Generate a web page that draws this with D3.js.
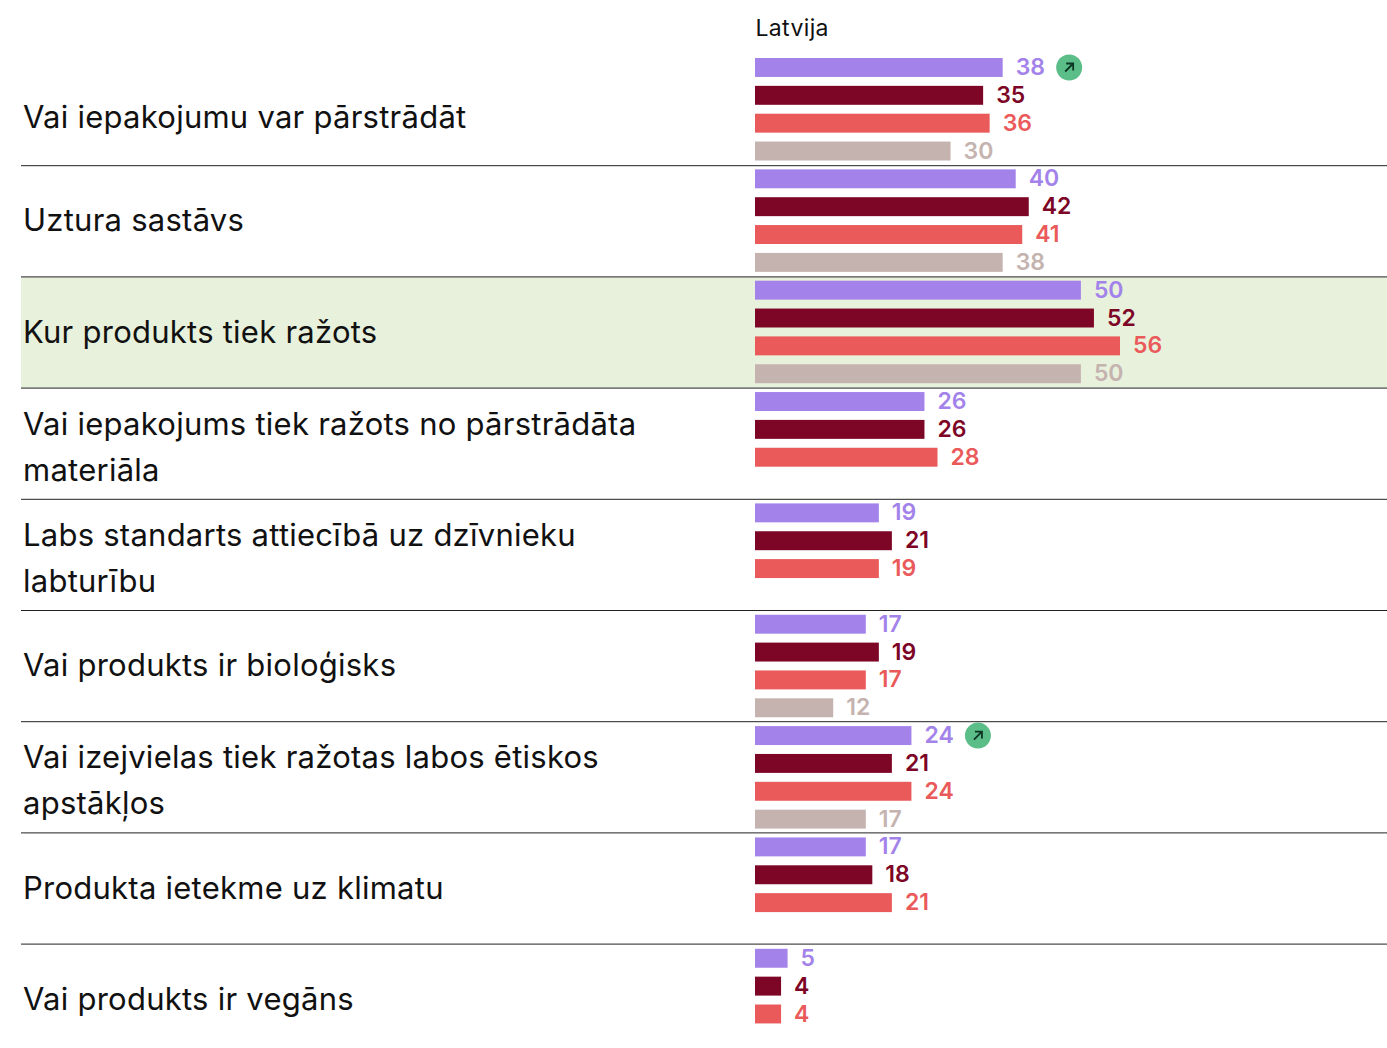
<!DOCTYPE html>
<html><head><meta charset="utf-8">
<script src="https://cdn.jsdelivr.net/npm/d3@7/dist/d3.min.js"></script>
<style>html,body{margin:0;padding:0;background:#fff}svg{display:block}text{font-family:Inter,sans-serif}</style>
</head><body><svg id="c" width="1387" height="1048"></svg>
<script>
const categories=[["Vai iepakojumu var pārstrādāt"],["Uztura sastāvs"],["Kur produkts tiek ražots"],["Vai iepakojums tiek ražots no pārstrādāta","materiāla"],["Labs standarts attiecībā uz dzīvnieku","labturību"],["Vai produkts ir bioloģisks"],["Vai izejvielas tiek ražotas labos ētiskos","apstākļos"],["Produkta ietekme uz klimatu"],["Vai produkts ir vegāns"]];
const seriesA=[38,40,50,26,19,17,24,17,5];
const seriesB=[35,42,52,26,21,19,21,18,4];
const seriesC=[36,41,56,28,19,17,24,21,4];
const seriesD=[30,38,50,null,null,12,17,null,null];
const seriesColors=["#a383ea","#7d0526","#ea5a5a","#c4b3af"];
const trendRows=[0,6];
const highlightRow=2;
const header="Latvija";
const svg=d3.select("#c");
const rowH=111.2,top0=54.5;
const y=d3.scaleBand().domain(d3.range(categories.length)).range([top0,top0+rowH*categories.length]);
const x=d3.scaleLinear().domain([0,56]).range([755,1120]);
const inner=d3.scaleBand().domain(d3.range(4)).range([3.5,106]).paddingInner(0.32).paddingOuter(0);
svg.append("rect").attr("x",21).attr("y",y(highlightRow)).attr("width",1366).attr("height",rowH).attr("fill","#e8f1dc");
svg.append("text").attr("x",755.5).attr("y",36).attr("font-size",23).attr("letter-spacing",.35).attr("fill","#111").text(header);
[seriesA,seriesB,seriesC,seriesD].forEach((s,k)=>{
  const g=svg.append("g").selectAll("g").data(s.map((v,i)=>({v,i})).filter(d=>d.v!=null)).join("g");
  g.append("rect").attr("x",x(0)).attr("y",d=>y(d.i)+inner(k)+d.i*.15).attr("width",d=>x(d.v)-x(0)).attr("height",inner.bandwidth()).attr("fill",seriesColors[k]);
  g.append("text").attr("x",d=>x(d.v)+13).attr("y",d=>y(d.i)+inner(k)+d.i*.15+17).attr("font-size",23).attr("font-weight",600).attr("fill",seriesColors[k]).text(d=>d.v);
});
const rules=d3.range(1,categories.length);
svg.append("g").selectAll("line").data(rules).join("line").attr("x1",21).attr("x2",1387).attr("y1",d=>y(d)).attr("y2",d=>y(d)).attr("stroke","#222").attr("stroke-width",1);
svg.append("g").selectAll("text").data(categories).join("text").attr("font-size",31).attr("letter-spacing",.25).attr("fill","#111")
 .each(function(lines,i){
  const t=d3.select(this),mid=y(i)+rowH/2+(i==0?18:lines.length==1?10:14);
  lines.forEach((l,j)=>t.append("tspan").attr("x",23).attr("y",mid+(j-(lines.length-1)/2)*46).text(l));
 });
const tg=svg.append("g").selectAll("g").data(trendRows).join("g").attr("transform",d=>`translate(${x(seriesA[d])+66.5},${y(d)+inner(0)+d*.15+9.5})`);
tg.append("circle").attr("r",13).attr("fill","#5bbd88");
tg.append("path").attr("d","M-4 4L4-4M-3-4H4V3").attr("fill","none").attr("stroke","#0d3524").attr("stroke-width",1.8);
</script></body></html>
